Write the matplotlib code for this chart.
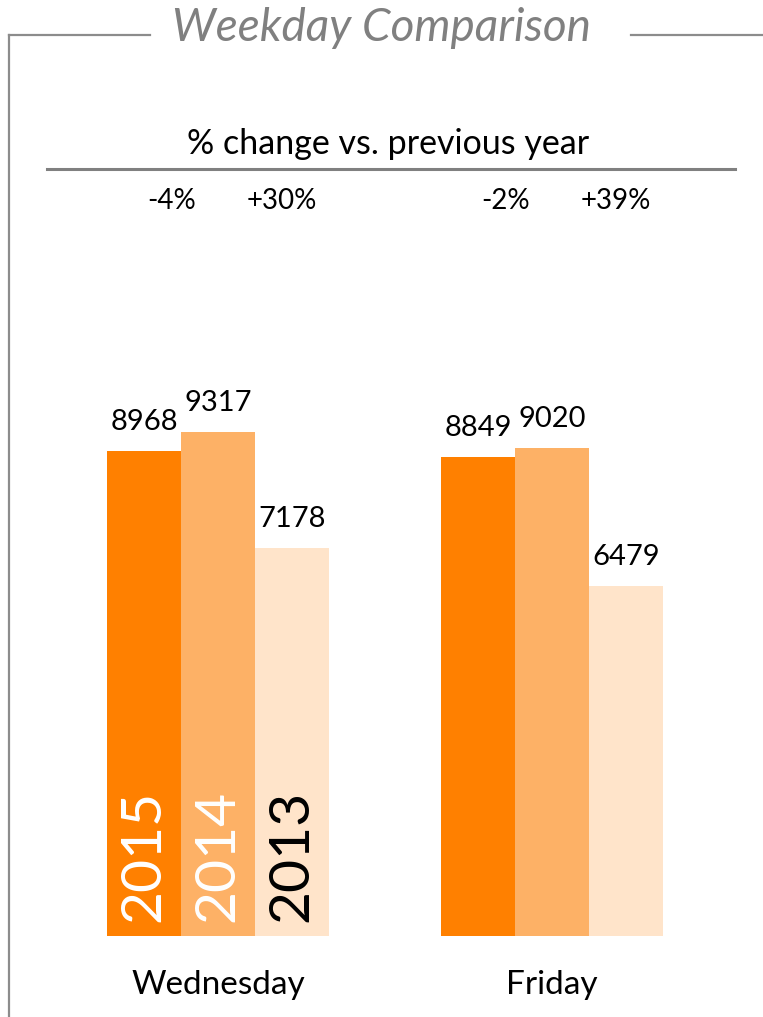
import numpy as np
import matplotlib.pyplot as plt
from matplotlib.lines import Line2D

# Chart data
days = ["Wednesday", "Friday"]
years = ["2015", "2014", "2013"]
values = {
    "2015": [8968, 8849],
    "2014": [9317, 9020],
    "2013": [7178, 6479],
}
pct_prev = ["-4%", "-2%"]     # 2015 vs 2014
pct_prev2 = ["+30%", "+39%"]  # 2014 vs 2013

colors = {"2015": "#FF8000", "2014": "#FDB166", "2013": "#FFE4CA"}
year_text_colors = {"2015": "white", "2014": "white", "2013": "black"}

W, H = 763, 1017
plt.rcParams['font.family'] = ['Lato', 'DejaVu Sans']

fig = plt.figure(figsize=(W / 100, H / 100), dpi=100)

# axes spans the whole figure; x in group units, y in value units
group_px = 334.0
center0 = 218.0
base_px = 936.0
px_per_unit = 485.0 / 8968
ax = fig.add_axes([0, 0, 1, 1])
ax.set_xlim(-center0 / group_px, (W - center0) / group_px)
ax.set_ylim(-(H - base_px) / px_per_unit, base_px / px_per_unit)
ax.axis("off")

x = np.arange(len(days))
bw = 74.0 / group_px
for i, yr in enumerate(years):
    xs = x + (i - 1) * bw
    ax.bar(xs, values[yr], width=bw, color=colors[yr], edgecolor="none")
    for xi, v in zip(xs, values[yr]):
        ax.text(xi, v + 16 / px_per_unit, str(v), ha="center", va="bottom",
                fontsize=21, color="black")
    # rotated year label inside the first group's bars
    ax.text(xs[0], 14 / px_per_unit, yr, rotation=90, ha="center", va="bottom",
            fontsize=41, color=year_text_colors[yr])

# category labels
for xi, d in zip(x, days):
    ax.text(xi, -(985 - base_px) / px_per_unit, d, ha="center", va="center",
            fontsize=24, color="black")

# percent change labels
top_y = (base_px - 201) / px_per_unit
for xi, a, b in zip(x, pct_prev, pct_prev2):
    ax.text(xi - 46 / group_px, top_y, a, ha="center", va="center", fontsize=20)
    ax.text(xi + 64 / group_px, top_y, b, ha="center", va="center", fontsize=20)

# header texts and frame lines (figure pixel coords)
def fx(px):
    return px / W

def fy(py):
    return 1 - py / H

fig.text(fx(382), fy(28), "Weekday Comparison", ha="center", va="center",
         fontsize=33, style="italic", color="#808080")
fig.text(fx(388), fy(144), "% change vs. previous year", ha="center", va="center",
         fontsize=24.5, color="black")

gray = "#8C8C8C"
fig.add_artist(Line2D([fx(9), fx(150)], [fy(35), fy(35)], color=gray, lw=1.6))
fig.add_artist(Line2D([fx(631), fx(763)], [fy(35), fy(35)], color=gray, lw=1.6))
fig.add_artist(Line2D([fx(9), fx(9)], [fy(35), fy(1017)], color=gray, lw=1.6))
fig.add_artist(Line2D([fx(47), fx(735)], [fy(169), fy(169)], color="#808080", lw=2.2))

plt.savefig("out.png", dpi=100)
